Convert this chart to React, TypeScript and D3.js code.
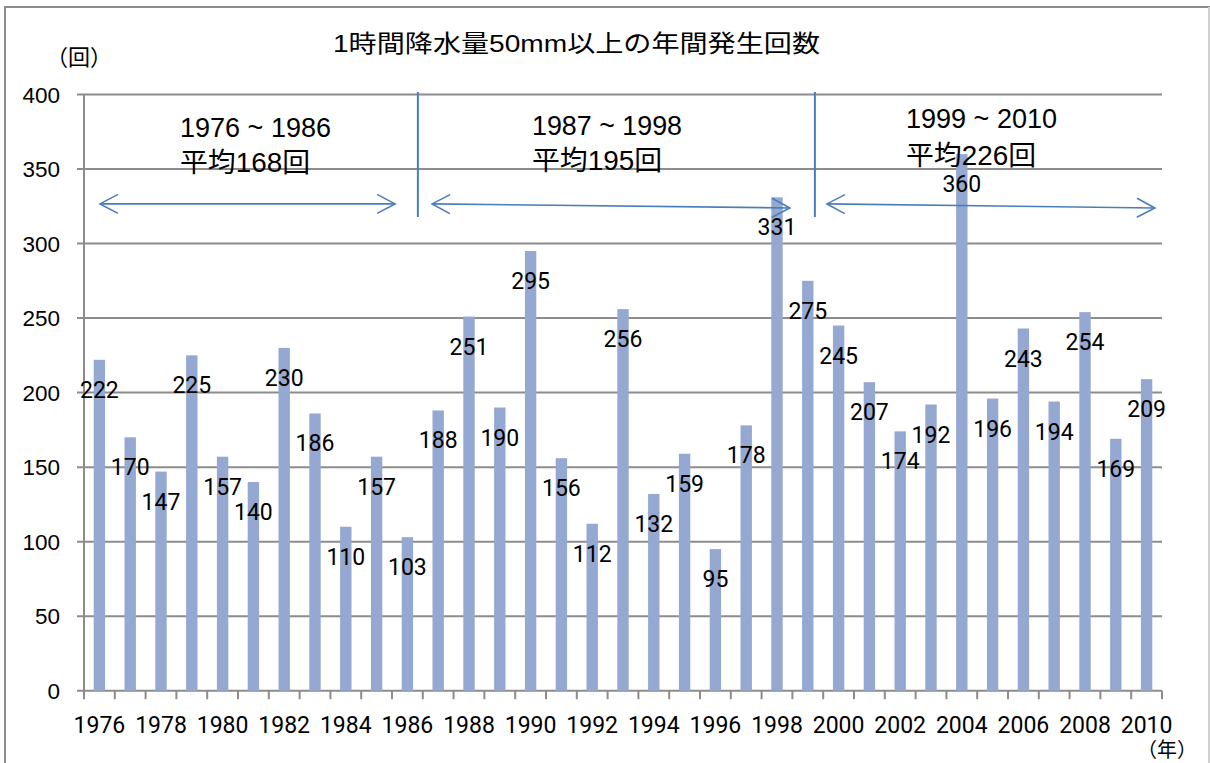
import * as d3 from "d3";
import React, { useEffect } from "react";

// years and counts of hourly rainfall >= 50mm
const years = [
  1976, 1977, 1978, 1979, 1980, 1981, 1982, 1983, 1984, 1985, 1986, 1987, 1988, 1989, 1990, 1991, 1992, 1993,
  1994, 1995, 1996, 1997, 1998, 1999, 2000, 2001, 2002, 2003, 2004, 2005, 2006, 2007, 2008, 2009, 2010,
];
const counts = [
  222, 170, 147, 225, 157, 140, 230, 186, 110, 157, 103, 188, 251, 190, 295, 156, 112, 256, 132, 159, 95, 178,
  331, 275, 245, 207, 174, 192, 360, 196, 243, 194, 254, 169, 209,
];
const yTicks = [0, 50, 100, 150, 200, 250, 300, 350, 400];
const periodRanges = ["1976 ~ 1986", "1987 ~ 1998", "1999 ~ 2010"];
const periodMeans = ["平均168回", "平均195回", "平均226回"];

const title = "1時間降水量50mm以上の年間発生回数";
const FONT = "'Liberation Sans', Arial, 'Noto Sans CJK JP', sans-serif";
const NUMFONT = "Roboto, 'Liberation Sans', sans-serif";
const BAR = "#94a8d1";
const BLUE = "#4a7ebb";
const GRID = "#8c8c8c";

// annotation layout, in band units from the left axis
const arrows = [
  { x0: 0.52, x1: 10.1, y0: 326.6, y1: 326.6 },
  { x0: 11.3, x1: 22.92, y0: 326.6, y1: 323.9 },
  { x0: 24.12, x1: 34.77, y0: 326.6, y1: 323.9 },
];
const separators = [10.84, 23.73];
const textPos = [
  { x: 180, y1: 137, y2: 172, w1: 151, w2: 130 },
  { x: 532, y1: 135, y2: 170, w1: 150, w2: 130 },
  { x: 906, y1: 128, y2: 165, w1: 151, w2: 130 },
];

export default function App() {
  useEffect(() => {
    document.body.style.margin = "0";
  }, []);

  const left = 84;
  const right = 1162;
  const x = d3.scaleBand<number>().domain(years).range([left, right]).paddingInner(0.63).paddingOuter(0.315);
  const xu = d3.scaleLinear().domain([0, years.length]).range([left, right]);
  const y = d3.scaleLinear().domain([0, 400]).range([690.7, 94.5]);

  const head = (x0: number, y0: number, x1: number, y1: number) => {
    const a = Math.atan2(y1 - y0, x1 - x0);
    const L = 18, W = 9.5;
    const bx = x1 - L * Math.cos(a), by = y1 - L * Math.sin(a);
    const px = -Math.sin(a) * W, py = Math.cos(a) * W;
    return `M${bx + px},${by + py}L${x1},${y1}L${bx - px},${by - py}`;
  };

  return (
    <svg width={1210} height={763} style={{ display: "block" }} fontFamily={FONT}>
      <rect x={0} y={0} width={1210} height={763} fill="#fff" />
      <rect x={5} y={7} width={1204} height={780} fill="none" stroke={GRID} strokeWidth={2} />
      <rect x={1208} y={7} width={2} height={760} fill="#d0d0d0" />

      <text x={333} y={52} fontSize={24} textLength={487} lengthAdjust="spacingAndGlyphs" fill="#000">
        {title}
      </text>
      <text x={79} y={65} fontSize={22} textAnchor="middle" fill="#000">
        （回）
      </text>

      {/* grid lines and y labels */}
      {yTicks.map(t => (
        <g key={t}>
          <line x1={77} x2={right} y1={y(t)} y2={y(t)} stroke={GRID} strokeWidth={2} />
          <text x={60} y={y(t) + 8} fontSize={22.5} textAnchor="end" fill="#000">
            {t}
          </text>
        </g>
      ))}
      <line x1={left} x2={left} y1={y(400)} y2={y(0) + 1} stroke={GRID} strokeWidth={2} />

      {/* x ticks */}
      {d3.range(years.length + 1).map(i => (
        <line key={i} x1={xu(i)} x2={xu(i)} y1={y(0)} y2={y(0) + 8.5} stroke={GRID} strokeWidth={2} />
      ))}
      {years.map((yr, i) =>
        i % 2 === 0 ? (
          <text
            key={yr}
            x={x(yr)! + x.bandwidth() / 2}
            y={733}
            fontSize={23}
            fontFamily={NUMFONT}
            textAnchor="middle"
            fill="#000"
          >
            {yr}
          </text>
        ) : null
      )}
      <text x={1167} y={757} fontSize={20} textAnchor="middle" fill="#000">
        （年）
      </text>

      {/* bars */}
      {years.map((yr, i) => (
        <rect
          key={yr}
          x={x(yr)!}
          y={y(counts[i])}
          width={x.bandwidth()}
          height={y(0) - y(counts[i])}
          fill={BAR}
        />
      ))}

      {/* annotations */}
      {separators.map((s, i) => (
        <line key={i} x1={xu(s)} x2={xu(s)} y1={92} y2={217} stroke={BLUE} strokeWidth={2} />
      ))}
      {arrows.map((a, i) => {
        const x0 = xu(a.x0), x1 = xu(a.x1), y0 = y(a.y0), y1 = y(a.y1);
        return (
          <g key={i} fill="none" stroke={BLUE} strokeWidth={1.6}>
            <line x1={x0} y1={y0} x2={x1} y2={y1} />
            <path d={head(x0, y0, x1, y1)} />
            <path d={head(x1, y1, x0, y0)} />
          </g>
        );
      })}
      {periodRanges.map((r, i) => (
        <g key={r} fontSize={27} fill="#000">
          <text x={textPos[i].x} y={textPos[i].y1} textLength={textPos[i].w1} lengthAdjust="spacingAndGlyphs">
            {r}
          </text>
          <text x={textPos[i].x} y={textPos[i].y2} textLength={textPos[i].w2} lengthAdjust="spacingAndGlyphs">
            {periodMeans[i]}
          </text>
        </g>
      ))}

      {/* value labels */}
      {years.map((yr, i) => (
        <text
          key={yr}
          x={x(yr)! + x.bandwidth() / 2}
          y={y(counts[i]) + 38}
          fontSize={23}
          fontFamily={NUMFONT}
          textAnchor="middle"
          fill="#000"
        >
          {counts[i]}
        </text>
      ))}
    </svg>
  );
}
